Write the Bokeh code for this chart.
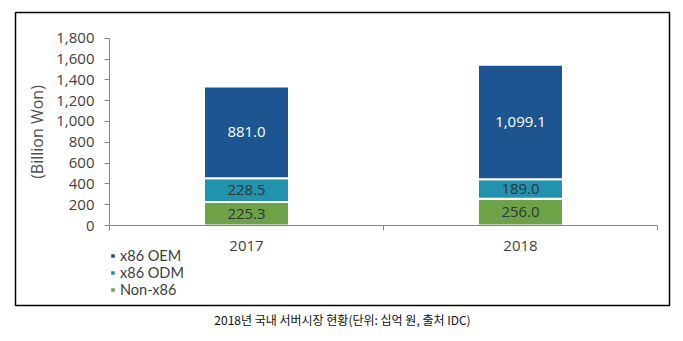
from bokeh.plotting import figure
from bokeh.models import (ColumnDataSource, FixedTicker, Legend, LegendItem, Title,
                          Range1d, NumeralTickFormatter)
from bokeh.core.properties import value
from bokeh.embed import file_html
from bokeh.resources import INLINE

years = ["2017", "2018"]
non_x86 = [225.3, 256.0]
x86_odm = [228.5, 189.0]
x86_oem = [881.0, 1099.1]
y_ticks = [0, 200, 400, 600, 800, 1000, 1200, 1400, 1600, 1800]
series_names = ["x86 OEM", "x86 ODM", "Non-x86"]
colors = {"x86 OEM": "#1c5591", "x86 ODM": "#2193ae", "Non-x86": "#6ea248"}
caption = "2018년 국내 서버시장 현황(단위: 십억 원, 출처 IDC)"

FONT = "Open Sans"
LEGEND_FONT = "Lato"

# ---- layout (pixels) ----
W, H = 683, 341
BOX_L, BOX_R, BOX_T, BOX_B = 15, 669, 12, 305      # outer framed box = plot frame
AX_L, AX_R, AX_T, AX_B = 109, 657, 37.7, 225       # value area inside the box
Y_MAX = 1800
n = len(years)
px_x = (AX_R - AX_L) / n
px_y = (AX_B - AX_T) / Y_MAX
x_range = Range1d(-(AX_L - BOX_L) / px_x, n + (BOX_R - AX_R) / px_x)
y_range = Range1d(-(BOX_B - AX_B) / px_y, Y_MAX + (AX_T - BOX_T) / px_y)

xs = [i + 0.5 for i in range(n)]
src = ColumnDataSource(dict(x=xs, non=non_x86, odm=x86_odm, oem=x86_oem))

p = figure(width=W, height=H, output_backend="svg", toolbar_location=None,
           x_range=x_range, y_range=y_range,
           min_border_left=BOX_L, min_border_right=W - BOX_R, min_border_top=BOX_T,
           min_border_bottom=H - BOX_B)
p.outline_line_color = "black"
p.outline_line_width = 1.5
p.xgrid.visible = False
p.ygrid.visible = False
p.background_fill_color = "white"
p.border_fill_color = "white"

rs = p.vbar_stack(["non", "odm", "oem"], x="x", width=0.31, source=src,
                  color=[colors["Non-x86"], colors["x86 ODM"], colors["x86 OEM"]],
                  line_color="white", line_width=2)

# value labels at segment middles
lab_x, lab_y, lab_t, lab_c = [], [], [], []
for i in range(n):
    b = 0.0
    for v, c in ((non_x86[i], "#333333"), (x86_odm[i], "#333333"), (x86_oem[i], "#ffffff")):
        lab_x.append(xs[i]); lab_y.append(b + v / 2); lab_t.append(f"{v:,.1f}"); lab_c.append(c)
        b += v
lsrc = ColumnDataSource(dict(x=lab_x, y=lab_y, t=lab_t, c=lab_c))
p.text(x="x", y="y", text="t", source=lsrc, text_color="c", text_align="center",
       text_baseline="middle", text_font=value(FONT), text_font_size="15px")

# y axis (drawn at x = 0)
p.yaxis.fixed_location = 0
p.yaxis.bounds = (0, Y_MAX)
p.yaxis.ticker = FixedTicker(ticks=y_ticks)
p.yaxis.formatter = NumeralTickFormatter(format="0,0")
p.yaxis.axis_label = "(Billion Won)"
p.yaxis.axis_label_text_font = FONT
p.yaxis.axis_label_text_font_style = "normal"
p.yaxis.axis_label_text_font_size = "16px"
p.yaxis.axis_label_text_color = "#505050"
p.yaxis.axis_label_standoff = 5
p.yaxis.major_label_text_font = FONT
p.yaxis.major_label_text_font_size = "15px"
p.yaxis.major_label_text_color = "#404040"
p.yaxis.major_label_standoff = 10
p.yaxis.major_tick_in = 0
p.yaxis.major_tick_out = 5
p.yaxis.minor_tick_line_color = None
p.yaxis.axis_line_color = "#888888"
p.yaxis.major_tick_line_color = "#888888"

# x axis (drawn at value zero)
p.xaxis.fixed_location = 0
p.xaxis.bounds = (0, n)
p.xaxis.ticker = FixedTicker(ticks=xs, minor_ticks=list(range(n + 1)))
p.xaxis.major_label_overrides = {x: y for x, y in zip(xs, years)}
p.xaxis.major_tick_line_color = None
p.xaxis.major_tick_in = 0
p.xaxis.major_tick_out = 0
p.xaxis.minor_tick_in = 0
p.xaxis.minor_tick_out = 5
p.xaxis.minor_tick_line_color = "#888888"
p.xaxis.axis_line_color = "#888888"
p.xaxis.major_label_text_font = FONT
p.xaxis.major_label_text_font_size = "15px"
p.xaxis.major_label_text_color = "#404040"
p.xaxis.major_label_standoff = 10

# legend
items = [LegendItem(label=series_names[0], renderers=[rs[2]]),
         LegendItem(label=series_names[1], renderers=[rs[1]]),
         LegendItem(label=series_names[2], renderers=[rs[0]])]
legend = Legend(items=items, location=(AX_L - BOX_L, 7), orientation="vertical",
                glyph_width=7, glyph_height=7, label_standoff=4, padding=0, margin=0,
                spacing=0, label_height=16, label_text_font=LEGEND_FONT,
                label_text_font_size="14.5px", label_text_color="#404040",
                border_line_color=None, background_fill_alpha=0)
p.add_layout(legend)

# caption below the framed box
cap = Title(text=caption, align="center", text_font="Noto Sans CJK KR",
            text_font_size="12px", text_font_style="normal", text_color="#111111",
            standoff=7)
p.add_layout(cap, "below")

open("out.html", "w").write(file_html(p, INLINE))
